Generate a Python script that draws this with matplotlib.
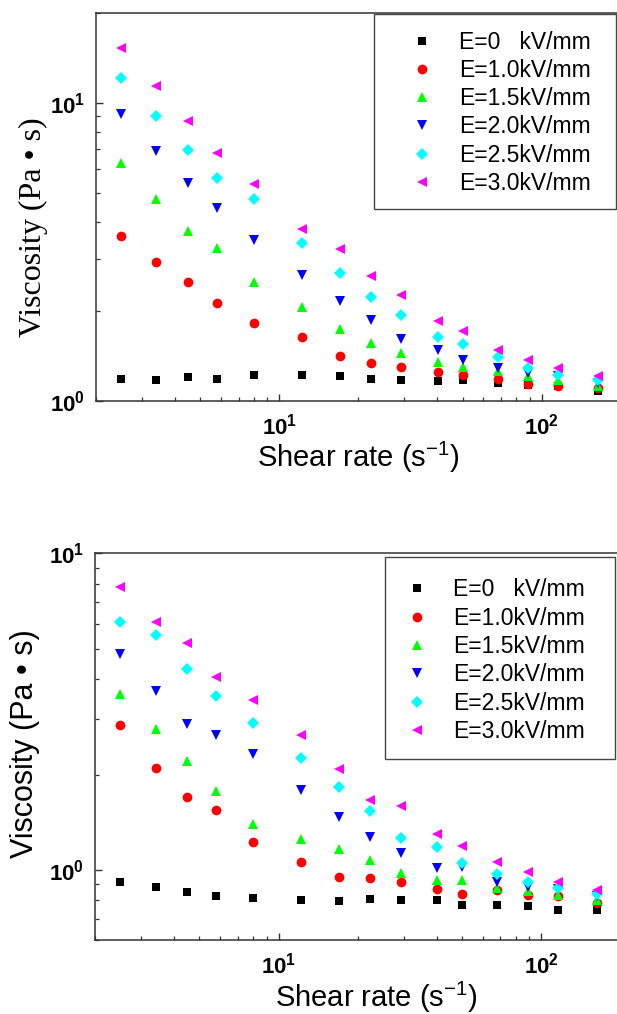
import numpy as np
import matplotlib
matplotlib.use('Agg')
import matplotlib.pyplot as plt
from matplotlib.patches import Rectangle
from matplotlib.ticker import LogLocator, FuncFormatter, NullFormatter

plt.rcParams['font.family'] = ['Liberation Sans', 'DejaVu Sans']
plt.rcParams['mathtext.fontset'] = 'custom'
plt.rcParams['mathtext.rm'] = 'Liberation Sans'
plt.rcParams['mathtext.bf'] = 'Liberation Sans:bold'
plt.rcParams['mathtext.it'] = 'Liberation Sans:italic'

# shear rate (1/s), shared by both panels
shear_rate = [2.5, 3.4, 4.5, 5.8, 8.0, 12.2, 17.0, 22.4, 29.2, 40.3, 50.0, 68.0, 89.0, 116.0, 164.0]

labels = ['E=0   kV/mm', 'E=1.0kV/mm', 'E=1.5kV/mm', 'E=2.0kV/mm', 'E=2.5kV/mm', 'E=3.0kV/mm']
colors = ['#000000', '#ff0000', '#00ff00', '#0000ff', '#00ffff', '#ff00ff']
markers = ['s', 'o', '^', 'v', 'D', '<']
msizes = [5.5, 7, 7.5, 7.5, 6, 7.5]

# top panel viscosity (Pa s)
top_E0 = [1.19, 1.18, 1.20, 1.19, 1.22, 1.22, 1.21, 1.185, 1.18, 1.167, 1.175, 1.152, 1.13, 1.12, 1.08]
top_E10 = [3.58, 2.93, 2.51, 2.14, 1.83, 1.64, 1.42, 1.34, 1.30, 1.25, 1.22, 1.19, 1.14, 1.12, 1.11]
top_E15 = [6.29, 4.75, 3.72, 3.25, 2.51, 2.06, 1.74, 1.57, 1.45, 1.35, 1.30, 1.26, 1.21, 1.18, 1.12]
top_E20 = [9.21, 6.90, 5.37, 4.43, 3.48, 2.65, 2.16, 1.87, 1.62, 1.48, 1.37, 1.29, 1.24, 1.21, 1.15]
top_E25 = [12.1, 9.04, 6.95, 5.58, 4.75, 3.38, 2.68, 2.24, 1.95, 1.64, 1.55, 1.40, 1.29, 1.22, 1.18]
top_E30 = [15.3, 11.4, 8.69, 6.77, 5.34, 3.77, 3.23, 2.62, 2.26, 1.85, 1.72, 1.48, 1.37, 1.29, 1.21]

# bottom panel viscosity (Pa s)
bot_E0 = [0.915, 0.882, 0.848, 0.826, 0.812, 0.802, 0.794, 0.808, 0.804, 0.80, 0.775, 0.775, 0.77, 0.744, 0.748]
bot_E10 = [2.86, 2.10, 1.70, 1.54, 1.22, 1.06, 0.946, 0.94, 0.912, 0.869, 0.84, 0.865, 0.83, 0.824, 0.785]
bot_E15 = [3.59, 2.78, 2.21, 1.78, 1.40, 1.25, 1.165, 1.07, 0.976, 0.925, 0.925, 0.875, 0.854, 0.834, 0.804]
bot_E20 = [4.80, 3.66, 2.89, 2.67, 2.32, 1.79, 1.47, 1.27, 1.13, 1.01, 1.02, 0.912, 0.882, 0.869, 0.824]
bot_E25 = [6.05, 5.52, 4.31, 3.54, 2.90, 2.26, 1.82, 1.53, 1.26, 1.18, 1.05, 0.97, 0.918, 0.875, 0.838]
bot_E30 = [7.85, 6.05, 5.20, 4.08, 3.44, 2.67, 2.08, 1.66, 1.59, 1.30, 1.19, 1.06, 0.983, 0.912, 0.865]

top_series = [top_E0, top_E10, top_E15, top_E20, top_E25, top_E30]
bot_series = [bot_E0, bot_E10, bot_E15, bot_E20, bot_E25, bot_E30]

fig = plt.figure(figsize=(6.17, 10.14), dpi=100)
ax1 = fig.add_axes([0.1556, 0.6045, 0.850, 0.3826])
ax2 = fig.add_axes([0.1540, 0.0730, 0.851, 0.3813])


def power_fmt(v, pos):
    return r'$\mathbf{10^{%d}}$' % int(round(np.log10(v)))


def style_axis(ax, ylim):
    ax.set_xscale('log')
    ax.set_yscale('log')
    ax.set_xlim(2, 200)
    ax.set_ylim(*ylim)
    for sp in ax.spines.values():
        sp.set_linewidth(1.1)
        sp.set_color('#333333')
    ax.xaxis.set_major_locator(LogLocator(base=10))
    ax.yaxis.set_major_locator(LogLocator(base=10))
    ax.xaxis.set_minor_locator(LogLocator(base=10, subs=np.arange(2, 10)))
    ax.yaxis.set_minor_locator(LogLocator(base=10, subs=np.arange(2, 10)))
    ax.xaxis.set_major_formatter(FuncFormatter(power_fmt))
    ax.yaxis.set_major_formatter(FuncFormatter(power_fmt))
    ax.xaxis.set_minor_formatter(NullFormatter())
    ax.yaxis.set_minor_formatter(NullFormatter())
    ax.tick_params(which='both', direction='in', top=False, right=False, color='#333333')
    ax.tick_params(which='major', length=5, width=1, labelsize=16)
    ax.tick_params(axis='x', which='major', pad=9)
    ax.tick_params(axis='y', which='major', pad=8)
    ax.tick_params(which='minor', length=3, width=0.9)


for ax, series, ylim in [(ax1, top_series, (1, 20)), (ax2, bot_series, (0.6, 10))]:
    style_axis(ax, ylim)
    for vals, lab, col, mk, ms in zip(series, labels, colors, markers, msizes):
        ax.plot(shear_rate, vals, linestyle='none', marker=mk, ms=ms, color=col,
                markeredgewidth=0, label=lab)

# legend frame drawn by hand so the padding can differ per side
leg_opts = dict(loc='upper left', borderaxespad=0, borderpad=0, fontsize=16.5, numpoints=1,
                handlelength=1.2, handletextpad=1.0, labelspacing=0.23, frameon=False)
for ax, box, anchor in [(ax1, (0.530, 0.495, 0.461, 0.502), (0.5954, 0.955)),
                        (ax2, (0.552, 0.467, 0.438, 0.524), (0.5867, 0.935))]:
    ax.add_patch(Rectangle(box[:2], box[2], box[3], transform=ax.transAxes,
                           facecolor='white', edgecolor='#444444', lw=1.0, zorder=5))
    leg = ax.legend(bbox_to_anchor=anchor, **leg_opts)
    leg.set_zorder(6)

fig.text(0.0535, 0.7756, 'Viscosity (Pa \u2022 s)', rotation=90, ha='center', va='center',
         fontsize=23, family=['Liberation Serif', 'DejaVu Serif'])
fig.text(0.0405, 0.2663, 'Viscosity (Pa \u2022 s)', rotation=90, ha='center', va='center',
         fontsize=22)
fig.text(0.5815, 0.549, r'Shear rate (s$^{-1}$)', ha='center', va='center', fontsize=21)
fig.text(0.610, 0.0168, r'Shear rate (s$^{-1}$)', ha='center', va='center', fontsize=21)

fig.savefig('out.png', dpi=100)
